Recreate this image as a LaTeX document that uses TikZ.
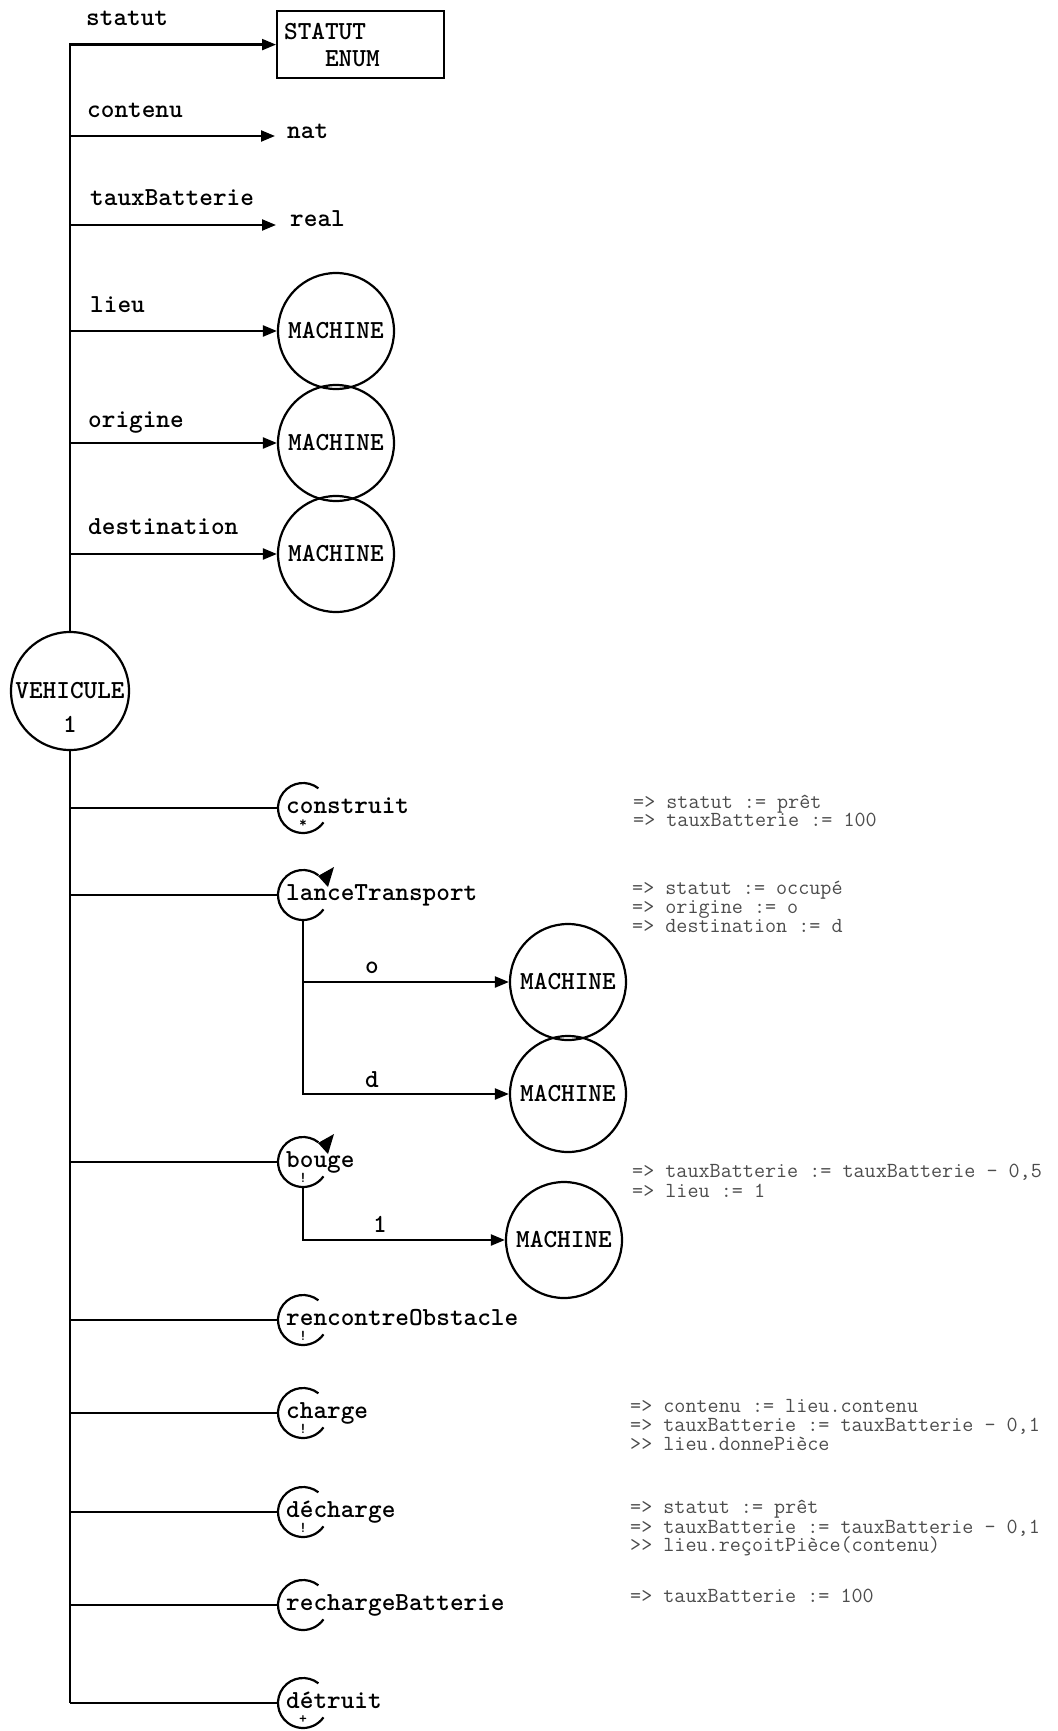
\documentclass[tikz,border=0pt]{standalone}
\usetikzlibrary{arrows.meta,shapes.geometric}
\newcommand\mainf{\ttfamily\bfseries\fontsize{26}{27}\selectfont}
\newcommand\annf{\ttfamily\fontsize{21.5}{19}\selectfont}
\newcommand\markf{\ttfamily\bfseries\fontsize{15}{15}\selectfont}
\tikzset{
  ln/.style={line width=2.2pt},
  arr/.style={ln,-{Triangle[length=14pt,width=11pt]}},
  lbl/.style={anchor=base west,inner sep=0pt,font=\mainf},
  cen/.style={anchor=base,inner sep=0pt,font=\mainf},
  machine/.style={circle,draw,line width=2.2pt,minimum size=116pt,inner sep=0pt,font=\mainf},
  opc/.style={circle,minimum size=50pt,inner sep=0pt,outer sep=0pt},
  mk/.style={anchor=center,inner sep=0pt,font=\markf},
  ann/.style={anchor=base west,inner sep=0pt,font=\annf,text=black!70},
}
% operation: name, y, label, mark
\newcommand\oper[4]{%
  \node[opc] (#1) at (303,-#2) {};
  \draw[ln] (#1.52) arc[start angle=52,end angle=325,radius=25pt];
  \node[lbl] (#1-t) at (286,-#2-5) {#3};
  \node[mk] (#1-m) at (303,-#2-16) {#4};
  \coordinate (#1-b) at (70,-#2);
  \draw[ln] (#1-b) -- (#1.west);
}
\newcommand\operarr[4]{%
  \oper{#1}{#2}{#3}{#4}
  \fill[shift={(#1)}] (15,19) -- (31,28) -- (25,8) -- cycle;
}
\begin{document}
\begin{tikzpicture}[x=1pt,y=1pt]
\useasboundingbox (0,0) rectangle (1057,-1731);

% central entity
\node[circle,draw,ln,minimum size=118pt,inner sep=0pt,font=\mainf] (V) at (70,-691) {VEHICULE};
\node[cen] (V1) at (70,-732) {1};

% statut
\node[draw,ln,rectangle,anchor=north west,minimum width=167pt,minimum height=67pt,text width=153pt,align=left,inner sep=7pt,font=\mainf] (statbox) at (276,-10) {STATUT\\\hphantom{STA}ENUM};
\draw[arr] (V.north) |- (statbox.west);
\node[lbl] (l-statut) at (86,-26) {statut};

% contenu
\node[lbl,inner xsep=12pt,inner ysep=0pt] (nat) at (275,-139) {nat};
\coordinate (b-contenu) at (70,-136);
\draw[arr] (b-contenu) -- (b-contenu -| nat.west);
\node[lbl] (l-contenu) at (87,-118) {contenu};

% tauxBatterie
\node[lbl,inner xsep=14pt,inner ysep=0pt] (real) at (276,-226) {real};
\coordinate (b-taux) at (70,-225);
\draw[arr] (b-taux) -- (b-taux -| real.west);
\node[lbl] (l-taux) at (90,-206) {tauxBatterie};

% lieu / origine / destination
\node[machine] (m-lieu) at (336,-331) {MACHINE};
\node[machine] (m-orig) at (336,-443) {MACHINE};
\node[machine] (m-dest) at (336,-554) {MACHINE};
\coordinate (b-lieu) at (70,-331);
\coordinate (b-orig) at (70,-443);
\coordinate (b-dest) at (70,-554);
\draw[arr] (b-lieu) -- (m-lieu.west);
\draw[arr] (b-orig) -- (m-orig.west);
\draw[arr] (b-dest) -- (m-dest.west);
\node[lbl] (l-lieu) at (90,-312) {lieu};
\node[lbl] (l-orig) at (88,-427) {origine};
\node[lbl] (l-dest) at (88,-534) {destination};

% operations
\oper{cs}{808}{construit}{*}
\operarr{lt}{895}{lanceTransport}{}
\operarr{bg}{1162}{bouge}{!}
\oper{ro}{1320}{rencontreObstacle}{!}
\oper{ch}{1413}{charge}{!}
\oper{dc}{1512}{décharge}{!}
\oper{rb}{1605}{rechargeBatterie}{}
\oper{dt}{1703}{détruit}{+}
\draw[ln] (V.south) -- (dt-b);

% lanceTransport parameters
\node[machine] (m-o) at (568,-982) {MACHINE};
\node[machine] (m-d) at (568,-1094) {MACHINE};
\draw[arr] (lt.south) |- (m-d.west);
\draw[arr] (lt.south |- m-o.west) -- (m-o.west);
\node[cen] (l-o) at (372,-973) {o};
\node[cen] (l-d) at (372,-1087) {d};

% bouge parameter
\node[machine] (m-l) at (564,-1240) {MACHINE};
\draw[arr] (bg.south) |- (m-l.west);
\node[cen] (l-l) at (380,-1232) {1};

% annotations
\node[ann] (a1) at (633,-808) {=> statut := prêt};
\node[ann] (a2) at (633,-826) {=> tauxBatterie := 100};
\node[ann] (a3) at (632,-894) {=> statut := occupé};
\node[ann] (a4) at (632,-913) {=> origine := o};
\node[ann] (a5) at (632,-932) {=> destination := d};
\node[ann] (a6) at (632,-1177) {=> tauxBatterie := tauxBatterie - 0,5};
\node[ann] (a7) at (632,-1197) {=> lieu := 1};
\node[ann] (a8) at (630,-1412) {=> contenu := lieu.contenu};
\node[ann] (a9) at (630,-1431) {=> tauxBatterie := tauxBatterie - 0,1};
\node[ann] (a10) at (630,-1450) {>> lieu.donnePièce};
\node[ann] (a11) at (630,-1513) {=> statut := prêt};
\node[ann] (a12) at (630,-1533) {=> tauxBatterie := tauxBatterie - 0,1};
\node[ann] (a13) at (630,-1551) {>> lieu.reçoitPièce(contenu)};
\node[ann] (a14) at (630,-1602) {=> tauxBatterie := 100};
\end{tikzpicture}
\end{document}
